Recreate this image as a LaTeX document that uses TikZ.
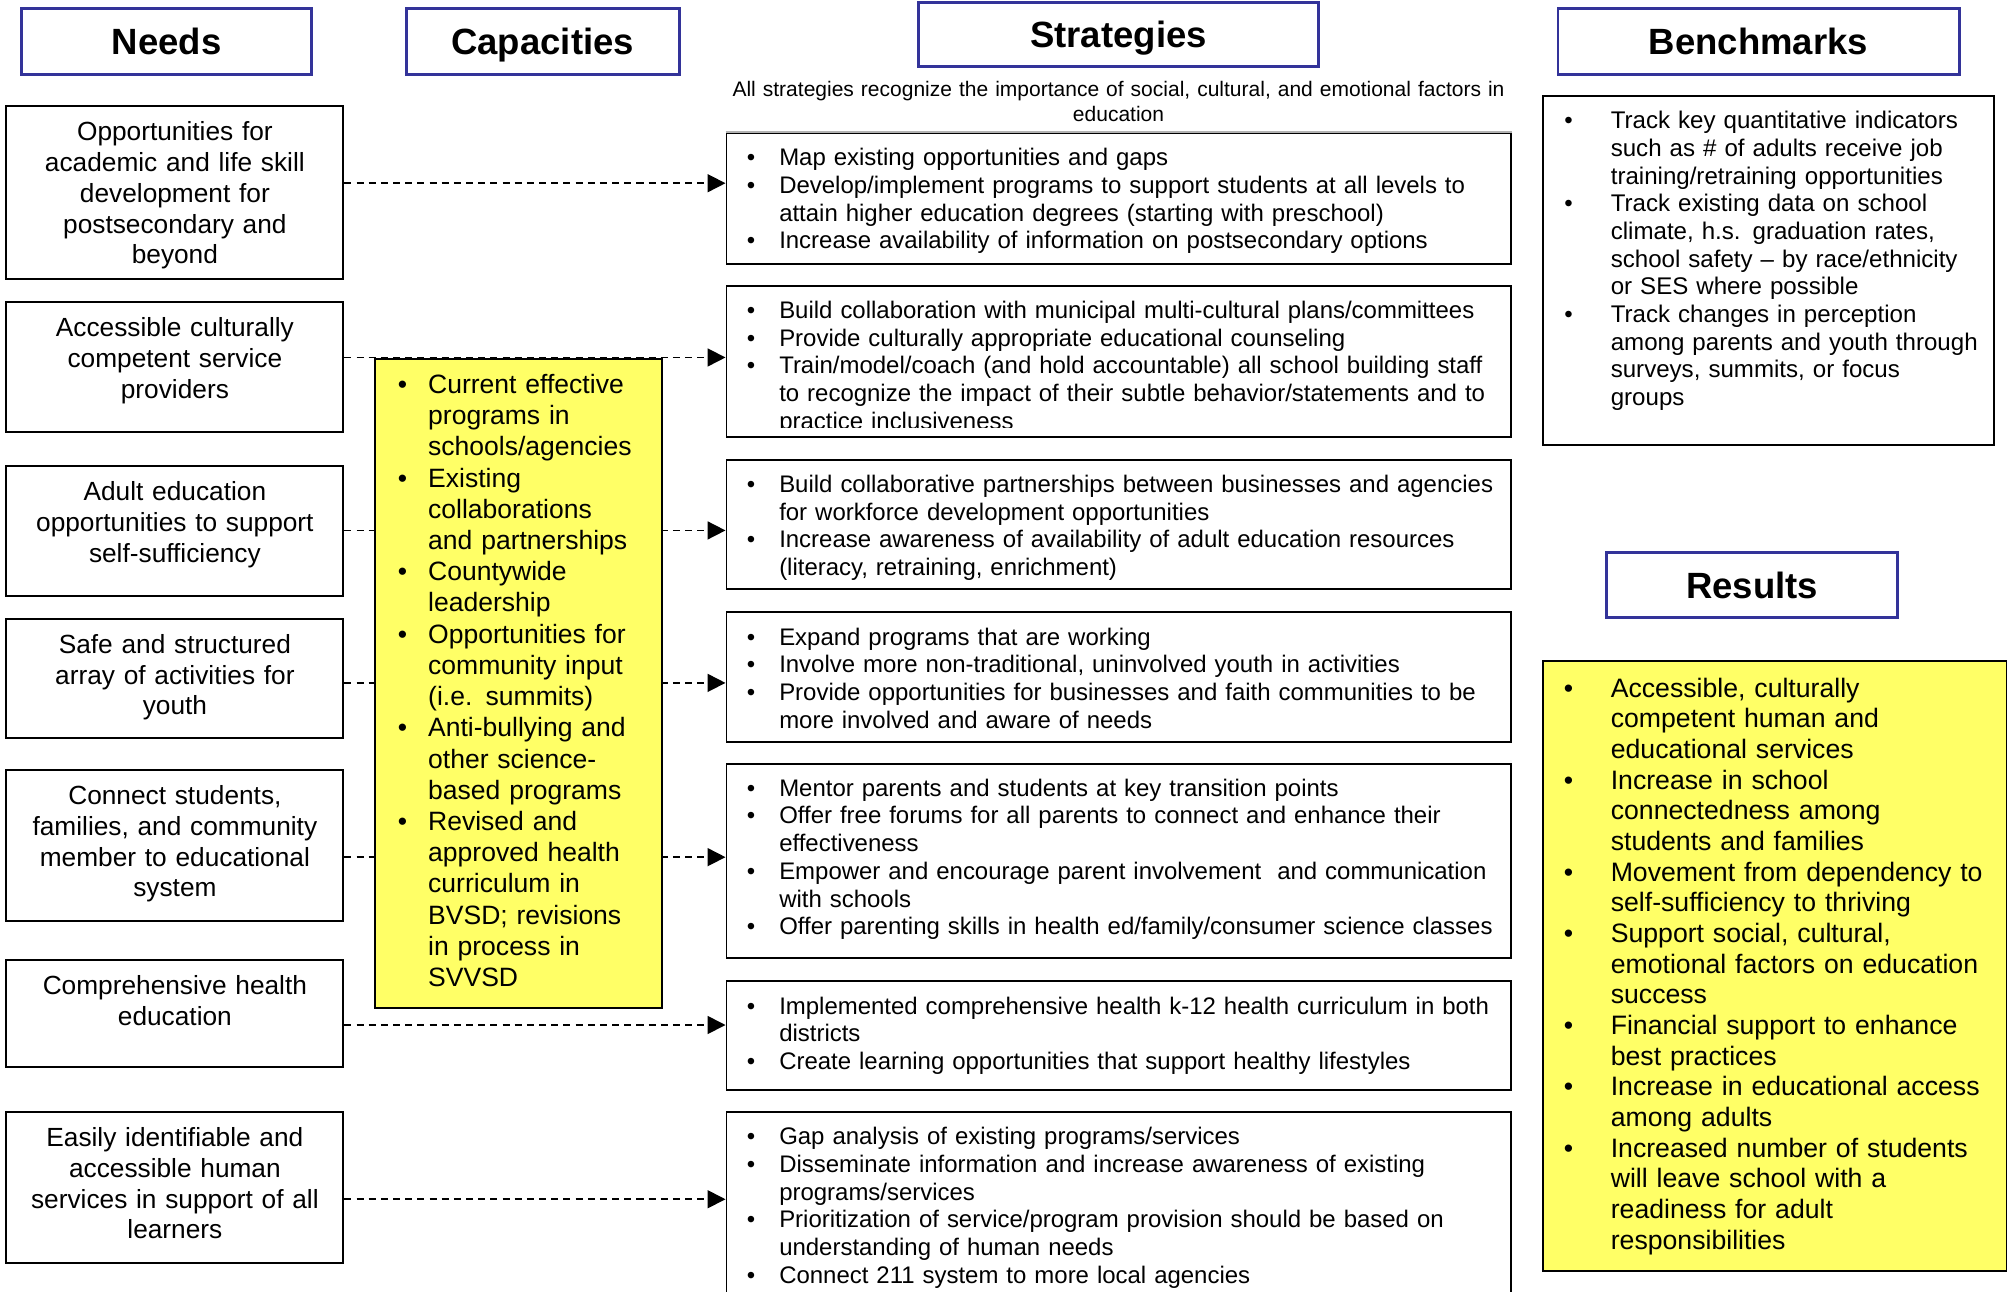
\documentclass[tikz,border=0pt]{standalone}
\usepackage{fontspec}
\setmainfont{Liberation Sans}
\usetikzlibrary{arrows.meta}
\definecolor{hdrblue}{RGB}{51,51,153}
\definecolor{capyellow}{RGB}{255,255,102}
\newlength\bgap
\newcommand\bi[1]{\noindent\llap{\textbullet\hspace{\bgap}}#1\par}
\newcommand\fN{\fontsize{20.5}{24}\selectfont}
\newcommand\fS{\fontsize{18.7}{21.6}\selectfont}
\newcommand\fB{\fontsize{18.8}{21.6}\selectfont}
\newcommand\fR{\fontsize{20.8}{23.94}\selectfont}
\newcommand\fC{\fontsize{20.7}{24.37}\selectfont}
\newcommand\fH{\fontsize{28.5}{32}\selectfont\bfseries}
\newcommand\fT{\fontsize{16.4}{19}\selectfont}
\tikzset{
  hdr/.style={draw=hdrblue, line width=2.3pt, font=\fH, text height=20.5pt, text depth=0pt, inner sep=0pt},
  box/.style={draw=black, line width=1.5pt, inner sep=0pt},
  capbox/.style={box, fill=capyellow},
  needtxt/.style={anchor=base, text width=262pt, align=center, font=\fN, inner sep=0pt},
  strtxt/.style={anchor=base west, text width=600pt, font=\fS, inner sep=0pt, execute at begin node={\setlength\bgap{18.7pt}}},
  bentxt/.style={anchor=base west, text width=320pt, font=\fB, inner sep=0pt, execute at begin node={\setlength\bgap{29.7pt}}},
  restxt/.style={anchor=base west, text width=320pt, font=\fR, inner sep=0pt, execute at begin node={\setlength\bgap{29.4pt}}},
  captxt/.style={anchor=base west, text width=250pt, font=\fC, inner sep=0pt, execute at begin node={\setlength\bgap{16.4pt}}},
  conn/.style={line width=1.3pt, dash pattern=on 5.5pt off 4pt, -{Triangle[length=14pt,width=14pt]}},
}
\begin{document}
\begin{tikzpicture}[x=1pt,y=-1pt]
\path[use as bounding box] (0,0) rectangle (1568,1008);
\fill[white] (0,0) rectangle (1568,1008);
\clip (0,0) rectangle (1568,1008);

% headers
\node[hdr, minimum width=226pt, minimum height=51pt] (hNeeds) at (130,32.5) {Needs};
\node[hdr, minimum width=213pt, minimum height=51pt] (hCap) at (423.5,32.5) {Capacities};
\node[hdr, minimum width=312pt, minimum height=50pt] (hStr) at (873,27) {Strategies};
\node[hdr, minimum width=313pt, minimum height=51pt] (hBen) at (1372.5,32.5) {Benchmarks};
\node[hdr, minimum width=227pt, minimum height=51pt] (hRes) at (1367.5,456.5) {Results};

\node[anchor=base, text width=700pt, align=center, font=\fT, inner sep=0pt] (note) at (873,75.5)
  {All strategies recognize the importance of social, cultural, and emotional factors in\\education};

% needs boxes
\node[box, minimum width=263pt, minimum height=135pt] (n1) at (136.5,150.5) {};
\node[box, minimum width=263pt, minimum height=101pt] (n2) at (136.5,286.5) {};
\node[box, minimum width=263pt, minimum height=101pt] (n3) at (136.5,414.5) {};
\node[box, minimum width=263pt, minimum height=93pt] (n4) at (136.5,529.5) {};
\node[box, minimum width=263pt, minimum height=118pt] (n5) at (136.5,660) {};
\node[box, minimum width=263pt, minimum height=84pt] (n6) at (136.5,791) {};
\node[box, minimum width=263pt, minimum height=118pt] (n7) at (136.5,927) {};

\node[needtxt] (tn1) at (136.5,110) {Opportunities for\\academic and life skill\\development for\\postsecondary and\\beyond};
\node[needtxt] (tn2) at (136.5,263) {Accessible culturally\\competent service\\providers};
\node[needtxt] (tn3) at (136.5,391) {Adult education\\opportunities to support\\self-sufficiency};
\node[needtxt] (tn4) at (136.5,510) {Safe and structured\\array of activities for\\youth};
\node[needtxt] (tn5) at (136.5,628) {Connect students,\\families, and community\\member to educational\\system};
\node[needtxt] (tn6) at (136.5,776) {Comprehensive health\\education};
\node[needtxt] (tn7) at (136.5,895) {Easily identifiable and\\accessible human\\services in support of all\\learners};

% strategy boxes
\node[box, minimum width=612pt, minimum height=102pt] (s1) at (873,155) {};
\node[box, minimum width=612pt, minimum height=118pt] (s2) at (873,282) {};
\node[box, minimum width=612pt, minimum height=101pt] (s3) at (873,409.5) {};
\node[box, minimum width=612pt, minimum height=101pt] (s4) at (873,528.5) {};
\node[box, minimum width=612pt, minimum height=152pt] (s5) at (873,672) {};
\node[box, minimum width=612pt, minimum height=85pt] (s6) at (873,808.5) {};
\node[box, minimum width=612pt, minimum height=162pt] (s7) at (873,949) {};
\draw[gray!60, line width=1.5pt] (s1.north west) -- (s1.north east);

\node[strtxt] (ts1) at (608,129.5) {%
\bi{Map existing opportunities and gaps}%
\bi{Develop/implement programs to support students at all levels to\newline attain higher education degrees (starting with preschool)}%
\bi{Increase availability of information on postsecondary options}};
\begin{scope}
\clip (570,226) rectangle (1176,333.5);
\node[strtxt] (ts2) at (608,248.5) {%
\bi{Build collaboration with municipal multi-cultural plans/committees}%
\bi{Provide culturally appropriate educational counseling}%
\bi{Train/model/coach (and hold accountable) all school building staff\newline to recognize the impact of their subtle behavior/statements and to\newline practice inclusiveness}};
\end{scope}
\node[strtxt] (ts3) at (608,384.5) {%
\bi{Build collaborative partnerships between businesses and agencies\newline for workforce development opportunities}%
\bi{Increase awareness of availability of adult education resources\newline (literacy, retraining, enrichment)}};
\node[strtxt] (ts4) at (608,503.5) {%
\bi{Expand programs that are working}%
\bi{Involve more non-traditional, uninvolved youth in activities}%
\bi{Provide opportunities for businesses and faith communities to be\newline more involved and aware of needs}};
\node[strtxt] (ts5) at (608,621.5) {%
\bi{Mentor parents and students at key transition points}%
\bi{Offer free forums for all parents to connect and enhance their\newline effectiveness}%
\bi{Empower and encourage parent involvement\ \ and communication\newline with schools}%
\bi{Offer parenting skills in health ed/family/consumer science classes}};
\node[strtxt] (ts6) at (608,791.5) {%
\bi{Implemented comprehensive health k-12 health curriculum in both\newline districts}%
\bi{Create learning opportunities that support healthy lifestyles}};
\node[strtxt] (ts7) at (608,893.5) {%
\bi{Gap analysis of existing programs/services}%
\bi{Disseminate information and increase awareness of existing\newline programs/services}%
\bi{Prioritization of service/program provision should be based on\newline understanding of human needs}%
\bi{Connect 211 system to more local agencies}};

% connectors
\coordinate (a1) at (0,143);
\coordinate (a2) at (0,279);
\coordinate (a3) at (0,414);
\coordinate (a4) at (0,533);
\coordinate (a5) at (0,669);
\coordinate (a6) at (0,800);
\coordinate (a7) at (0,936);
\draw[conn] (n1.east |- a1) -- (s1.west |- a1);
\draw[conn] (n2.east |- a2) -- (s2.west |- a2);
\draw[conn] (n3.east |- a3) -- (s3.west |- a3);
\draw[conn] (n4.east |- a4) -- (s4.west |- a4);
\draw[conn] (n5.east |- a5) -- (s5.west |- a5);
\draw[conn] (n6.east |- a6) -- (s6.west |- a6);
\draw[conn] (n7.east |- a7) -- (s7.west |- a7);

% capacities
\node[capbox, minimum width=224pt, minimum height=507pt] (cap) at (405,533.5) {};
\node[captxt] (tcap) at (334,307) {%
\bi{Current effective\newline programs in\newline schools/agencies}%
\bi{Existing\newline collaborations\newline and partnerships}%
\bi{Countywide\newline leadership}%
\bi{Opportunities for\newline community input\newline (i.e. summits)}%
\bi{Anti-bullying and\newline other science-\newline based programs}%
\bi{Revised and\newline approved health\newline curriculum in\newline BVSD; revisions\newline in process in\newline SVVSD}};

% benchmarks
\node[box, minimum width=352pt, minimum height=272pt] (ben) at (1380,211) {};
\node[bentxt] (tben) at (1257,100.5) {%
\bi{Track key quantitative indicators\newline such as \# of adults receive job\newline training/retraining opportunities}%
\bi{Track existing data on school\newline climate, h.s. graduation rates,\newline school safety -- by race/ethnicity\newline or SES where possible}%
\bi{Track changes in perception\newline among parents and youth through\newline surveys, summits, or focus\newline groups}};

% results
\node[capbox, minimum width=362pt, minimum height=476pt] (res) at (1385,754) {};
\node[restxt] (tres) at (1257,544) {%
\bi{Accessible, culturally\newline competent human and\newline educational services}%
\bi{Increase in school\newline connectedness among\newline students and families}%
\bi{Movement from dependency to\newline self-sufficiency to thriving}%
\bi{Support social, cultural,\newline emotional factors on education\newline success}%
\bi{Financial support to enhance\newline best practices}%
\bi{Increase in educational access\newline among adults}%
\bi{Increased number of students\newline will leave school with a\newline readiness for adult\newline responsibilities}};
\end{tikzpicture}
\end{document}
